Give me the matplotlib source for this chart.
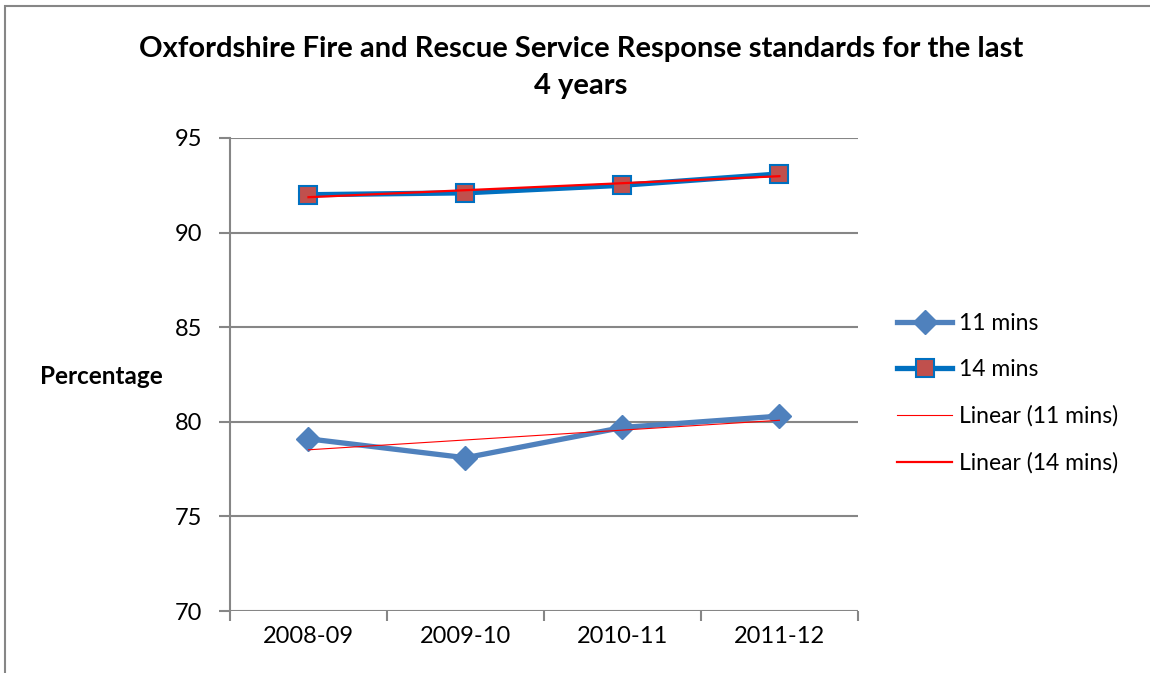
import matplotlib.pyplot as plt
import numpy as np
from matplotlib.patches import Rectangle

plt.rcParams['font.family'] = ['Lato', 'DejaVu Sans']

# data
years = ['2008-09', '2009-10', '2010-11', '2011-12']
mins_11 = [79.1, 78.1, 79.7, 80.3]
mins_14 = [92.0, 92.1, 92.5, 93.1]

x = np.arange(len(years))

fig = plt.figure(figsize=(11.5, 6.73), dpi=100)
ax = fig.add_axes([0.2, 0.0921, 0.546, 0.7029])

# chart border
fig.patches.append(Rectangle((5 / 1150, -0.1), 1.2, 1 - 6 / 673 + 0.1,
                             transform=fig.transFigure, fill=False,
                             edgecolor='#868686', linewidth=1.5))

grid_col = '#868686'
for v in range(70, 96, 5):
    ax.axhline(v, color=grid_col, linewidth=1.5, zorder=1)

ax.plot(x, mins_11, color='#4F81BD', linewidth=3.8, marker='D',
        markersize=12, markerfacecolor='#4F81BD', markeredgecolor='#4F81BD',
        label='11 mins', zorder=3)
ax.plot(x, mins_14, color='#0070C0', linewidth=3.8, marker='s',
        markersize=12.5, markerfacecolor='#C0504D', markeredgecolor='#0070C0',
        markeredgewidth=1.5, label='14 mins', zorder=3)

# linear trendlines
p11 = np.polyfit(x, mins_11, 1)
p14 = np.polyfit(x, mins_14, 1)
ax.plot(x, np.polyval(p11, x), color='#FF0000', linewidth=0.8,
        label='Linear (11 mins)', zorder=4)
ax.plot(x, np.polyval(p14, x), color='#FF0000', linewidth=1.6,
        label='Linear (14 mins)', zorder=4)

ax.set_xlim(-0.5, 3.5)
ax.set_ylim(70, 95)
ax.set_yticks(range(70, 96, 5))
ax.set_xticks(np.arange(-0.5, 4, 1))
ax.set_xticklabels([])
ax.set_xticks(x, minor=True)
ax.set_xticklabels(years, minor=True)
ax.tick_params(axis='x', which='minor', length=0, labelsize=17, pad=11)
ax.tick_params(axis='x', which='major', length=7, color=grid_col, width=1.5)
ax.tick_params(axis='y', length=8, color=grid_col, width=1.5, labelsize=17, pad=12)

for s in ['top', 'right']:
    ax.spines[s].set_visible(False)
ax.spines['left'].set_color(grid_col)
ax.spines['left'].set_linewidth(1.5)
ax.spines['bottom'].set_visible(False)

fig.text(0.505, 0.9, 'Oxfordshire Fire and Rescue Service Response standards for the last\n4 years',
         ha='center', va='center', fontsize=21, fontweight='bold', linespacing=1.5)
fig.text(0.035, 0.44, 'Percentage', ha='left', va='center', fontsize=17.5,
         fontweight='bold')

ax.legend(loc='center left', bbox_to_anchor=(1.03, 0.46), frameon=False,
          fontsize=16.5, handlelength=2.4, labelspacing=1.1, handletextpad=0.3)

fig.savefig('out.png', dpi=100)
